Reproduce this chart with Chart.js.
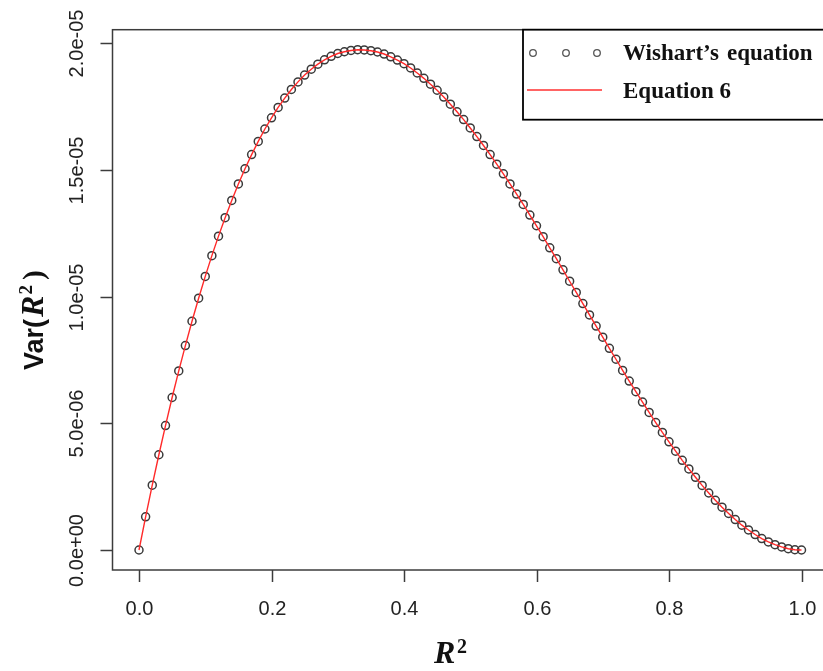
<!DOCTYPE html>
<html>
<head>
<meta charset="utf-8">
<script src="https://cdn.jsdelivr.net/npm/chart.js@4.4.1/dist/chart.umd.min.js"></script>
<style>
    html, body { margin: 0; padding: 0; background: #fff; overflow: hidden; }
    #chart { display: block; }
</style>
</head>
<body>
<canvas id="chart" width="840" height="671"></canvas>
<script>
// Données (Var en unités de 1e-6)
const r2Values = [
    0.00, 0.01, 0.02, 0.03, 0.04, 0.05, 0.06, 0.07, 0.08, 0.09,
    0.10, 0.11, 0.12, 0.13, 0.14, 0.15, 0.16, 0.17, 0.18, 0.19,
    0.20, 0.21, 0.22, 0.23, 0.24, 0.25, 0.26, 0.27, 0.28, 0.29,
    0.30, 0.31, 0.32, 0.33, 0.34, 0.35, 0.36, 0.37, 0.38, 0.39,
    0.40, 0.41, 0.42, 0.43, 0.44, 0.45, 0.46, 0.47, 0.48, 0.49,
    0.50, 0.51, 0.52, 0.53, 0.54, 0.55, 0.56, 0.57, 0.58, 0.59,
    0.60, 0.61, 0.62, 0.63, 0.64, 0.65, 0.66, 0.67, 0.68, 0.69,
    0.70, 0.71, 0.72, 0.73, 0.74, 0.75, 0.76, 0.77, 0.78, 0.79,
    0.80, 0.81, 0.82, 0.83, 0.84, 0.85, 0.86, 0.87, 0.88, 0.89,
    0.90, 0.91, 0.92, 0.93, 0.94, 0.95, 0.96, 0.97, 0.98, 0.99,
    1.00
];

const wishartVar = [
    0, 1.31, 2.56, 3.76, 4.91, 6.02, 7.07, 8.07, 9.03, 9.94,
    10.80, 11.62, 12.39, 13.12, 13.80, 14.45, 15.05, 15.61, 16.13, 16.62,
    17.06, 17.47, 17.84, 18.18, 18.48, 18.75, 18.98, 19.18, 19.35, 19.49,
    19.60, 19.67, 19.72, 19.75, 19.74, 19.71, 19.66, 19.58, 19.47, 19.34,
    19.20, 19.03, 18.83, 18.62, 18.39, 18.15, 17.88, 17.60, 17.30, 16.99,
    16.66, 16.32, 15.97, 15.61, 15.23, 14.85, 14.45, 14.05, 13.64, 13.22,
    12.80, 12.37, 11.93, 11.50, 11.06, 10.61, 10.17, 9.73, 9.28, 8.84,
    8.40, 7.96, 7.53, 7.09, 6.67, 6.25, 5.84, 5.43, 5.03, 4.64,
    4.27, 3.90, 3.54, 3.20, 2.87, 2.55, 2.25, 1.96, 1.69, 1.44,
    1.20, 0.98, 0.79, 0.61, 0.45, 0.32, 0.21, 0.12, 0.05, 0.01,
    0
];

// La courbe "Equation 6" se superpose aux points de Wishart
const equation6Var = wishartVar;

const xTickValues = [0, 0.2, 0.4, 0.6, 0.8, 1.0];
const xTickLabels = ['0.0', '0.2', '0.4', '0.6', '0.8', '1.0'];
const yTickValues = [0, 5, 10, 15, 20];
const yTickLabels = ['0.0e+00', '5.0e-06', '1.0e-05', '1.5e-05', '2.0e-05'];

const legendLabels = ['Wishart\u2019s', 'equation', 'Equation 6'];

const SANS = 'Arial, "Liberation Sans", "DejaVu Sans", sans-serif';
const SERIF = '"Liberation Serif", "Times New Roman", serif';

const toPoints = (xs, ys) => xs.map((x, i) => ({ x: x, y: ys[i] }));

// Axes, cadre, titres et légende façon R
const rStylePlugin = {
    id: 'rStyle',
    afterDraw(chart) {
        const ctx = chart.ctx;
        const area = chart.chartArea;
        const xs = chart.scales.x;
        const ys = chart.scales.y;

        ctx.save();
        ctx.strokeStyle = '#3c3c3c';
        ctx.lineWidth = 1.5;
        ctx.strokeRect(area.left, area.top, area.right - area.left, area.bottom - area.top);

        // graduations x
        ctx.fillStyle = '#222';
        ctx.font = '20px ' + SANS;
        ctx.textAlign = 'center';
        ctx.textBaseline = 'alphabetic';
        xTickValues.forEach((v, i) => {
            const px = Math.round(xs.getPixelForValue(v)) + 0.5;
            ctx.beginPath();
            ctx.moveTo(px, area.bottom);
            ctx.lineTo(px, area.bottom + 12);
            ctx.stroke();
            ctx.fillText(xTickLabels[i], px, 615);
        });

        // graduations y (texte tourné)
        yTickValues.forEach((v, i) => {
            const py = Math.round(ys.getPixelForValue(v)) + 0.5;
            ctx.beginPath();
            ctx.moveTo(area.left, py);
            ctx.lineTo(area.left - 12, py);
            ctx.stroke();
            ctx.save();
            ctx.translate(83, py);
            ctx.rotate(-Math.PI / 2);
            ctx.fillText(yTickLabels[i], 0, 0);
            ctx.restore();
        });

        // titre y : Var(R²)
        ctx.fillStyle = '#111';
        ctx.save();
        ctx.translate(43, 370);
        ctx.rotate(-Math.PI / 2);
        ctx.textAlign = 'left';
        let pos = 0;
        ctx.font = 'bold 27px ' + SANS;
        ctx.fillText('Var(', pos, 0);
        pos += ctx.measureText('Var(').width + 2;
        ctx.font = 'italic bold 32px ' + SERIF;
        ctx.fillText('R', pos, 0);
        pos += ctx.measureText('R').width + 1;
        ctx.font = 'bold 19px ' + SERIF;
        ctx.fillText('2', pos, -11);
        pos += ctx.measureText('2').width + 5;
        ctx.font = 'bold 29px ' + SERIF;
        ctx.fillText(')', pos, 0);
        ctx.restore();

        // titre x : R²
        ctx.textAlign = 'left';
        ctx.font = 'italic bold 32px ' + SERIF;
        ctx.fillText('R', 434, 663);
        ctx.font = 'bold 20px ' + SERIF;
        ctx.fillText('2', 457, 653);

        // légende
        ctx.fillStyle = '#fff';
        ctx.fillRect(523, area.top, area.right - 523, 90);
        ctx.strokeStyle = '#000';
        ctx.lineWidth = 1.8;
        ctx.strokeRect(523, area.top, area.right - 523, 90);

        ctx.strokeStyle = '#555';
        ctx.lineWidth = 1.3;
        [533, 566, 597].forEach(cx => {
            ctx.beginPath();
            ctx.arc(cx, 53, 3.3, 0, Math.PI * 2);
            ctx.stroke();
        });
        ctx.strokeStyle = '#ff3030';
        ctx.lineWidth = 1.4;
        ctx.beginPath();
        ctx.moveTo(527, 90);
        ctx.lineTo(602, 90);
        ctx.stroke();

        ctx.fillStyle = '#111';
        ctx.font = 'bold 23px ' + SERIF;
        ctx.fillText(legendLabels[0], 623, 60);
        ctx.fillText(legendLabels[1], 727, 60);
        ctx.fillText(legendLabels[2], 623, 98);
        ctx.restore();
    }
};

const chart = new Chart(document.getElementById('chart'), {
    type: 'scatter',
    data: {
        datasets: [
            {
                label: 'Equation 6',
                data: toPoints(r2Values, equation6Var),
                showLine: true,
                borderColor: '#ff2a2a',
                borderWidth: 1.4,
                pointRadius: 0,
                order: 0
            },
            {
                label: 'Wishart\u2019s equation',
                data: toPoints(r2Values, wishartVar),
                showLine: false,
                pointRadius: 4,
                pointBorderWidth: 1.5,
                pointBorderColor: '#3a3a3a',
                pointBackgroundColor: 'rgba(0,0,0,0)',
                order: 1
            }
        ]
    },
    options: {
        responsive: false,
        animation: false,
        devicePixelRatio: 1,
        layout: { padding: { left: 112.5, right: 12, top: 29.7, bottom: 101 } },
        plugins: { legend: { display: false }, tooltip: { enabled: false } },
        scales: {
            x: { type: 'linear', min: -0.04, max: 1.04, display: false },
            y: { type: 'linear', min: -0.79, max: 20.54, display: false }
        }
    },
    plugins: [rStylePlugin]
});
</script>
</body>
</html>
